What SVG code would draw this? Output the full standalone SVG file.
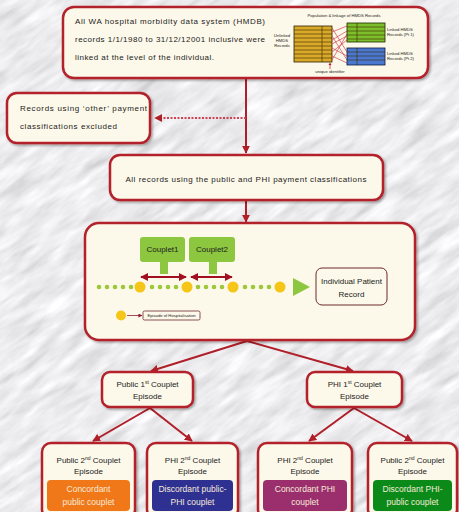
<svg xmlns="http://www.w3.org/2000/svg" width="459" height="512" viewBox="0 0 459 512">
<defs>
<style>
.box{fill:#fdf9ea;stroke:#b3202b;stroke-width:2.5}
.t{font-family:"Liberation Sans",Arial,sans-serif;font-size:8px;fill:#222}
.tc{font-family:"Liberation Sans",Arial,sans-serif;font-size:8px;fill:#222;text-anchor:middle}
.tw{font-family:"Liberation Sans",Arial,sans-serif;font-size:8.5px;fill:#f6ead8;text-anchor:middle}
.tiny{font-family:"Liberation Sans",Arial,sans-serif;font-size:4.2px;fill:#222}
.con{stroke:#b01e28;stroke-width:2;fill:none}
.dot{fill:#9cc83a}
.ep{fill:#f5c518}
.stripe{stroke:#3a2a00;stroke-width:0.6}
</style>
<filter id="tex" filterUnits="userSpaceOnUse" x="-250" y="-250" width="960" height="1010">
<feTurbulence type="fractalNoise" baseFrequency="0.025 0.11" numOctaves="4" seed="7"/>
<feColorMatrix type="matrix" values="0.33 0.33 0.33 0 0 0.33 0.33 0.33 0 0 0.33 0.33 0.33 0 0 0 0 0 0 1"/>
<feComponentTransfer>
<feFuncR type="linear" slope="0.85" intercept="0.42"/>
<feFuncG type="linear" slope="0.85" intercept="0.42"/>
<feFuncB type="linear" slope="0.85" intercept="0.44"/>
</feComponentTransfer>
</filter>
<filter id="sh" x="-10%" y="-10%" width="130%" height="130%">
<feDropShadow dx="1.5" dy="1.5" stdDeviation="1.2" flood-color="#000" flood-opacity="0.35"/>
</filter>
<marker id="ar" viewBox="0 0 10 10" refX="9" refY="5" markerWidth="4" markerHeight="4" orient="auto-start-reverse" markerUnits="strokeWidth">
<path d="M0,0 L10,5 L0,10 z" fill="#b01e28"/>
</marker>
<marker id="ard" viewBox="0 0 10 10" refX="9" refY="5" markerWidth="4" markerHeight="4" orient="auto-start-reverse" markerUnits="strokeWidth">
<path d="M0,0 L10,5 L0,10 z" fill="#a01020"/>
</marker>
<marker id="ars" viewBox="0 0 10 10" refX="9" refY="5" markerWidth="5" markerHeight="5" orient="auto" markerUnits="strokeWidth">
<path d="M0,0 L10,5 L0,10 z" fill="#8b2030"/>
</marker>
</defs>

<rect x="0" y="0" width="459" height="512" fill="#d4d4d8"/>
<g transform="rotate(-35 229 256)">
<rect x="-250" y="-250" width="960" height="1010" filter="url(#tex)"/>
</g>

<g id="connectors">
<line class="con" x1="246" y1="79" x2="246" y2="153" marker-end="url(#ar)"/>
<line x1="246" y1="118" x2="155" y2="118" stroke="#d04050" stroke-width="2" stroke-dasharray="2,1.5" marker-end="url(#ar)"/>
<line class="con" x1="246" y1="201" x2="246" y2="222" marker-end="url(#ar)"/>
<line class="con" x1="247" y1="341" x2="151" y2="371" marker-end="url(#ar)"/>
<line class="con" x1="247" y1="341" x2="353" y2="371" marker-end="url(#ar)"/>
<line class="con" x1="150" y1="408" x2="93" y2="441" marker-end="url(#ar)"/>
<line class="con" x1="150" y1="408" x2="192" y2="441" marker-end="url(#ar)"/>
<line class="con" x1="354" y1="408" x2="309" y2="441" marker-end="url(#ar)"/>
<line class="con" x1="354" y1="408" x2="412" y2="441" marker-end="url(#ar)"/>
</g>

<g id="n-top">
<rect class="box" x="63" y="7" width="365" height="71" rx="11" filter="url(#sh)"/>
<text class="t" x="75" y="24" textLength="190" lengthAdjust="spacing">All WA hospital morbidity data system (HMDB)</text>
<text class="t" x="75" y="42" textLength="190" lengthAdjust="spacing">records 1/1/1980 to 31/12/12001 inclusive were</text>
<text class="t" x="75" y="60" textLength="139" lengthAdjust="spacing">linked at the level of the individual.</text>
<g id="inset">
<text class="tiny" x="344" y="17" text-anchor="middle" font-size="4.6">Population &amp; linkage of HMDS Records</text>
<text class="tiny" x="282" y="37" text-anchor="middle">Unlinked</text>
<text class="tiny" x="282" y="42" text-anchor="middle">HMDS</text>
<text class="tiny" x="282" y="47" text-anchor="middle">Records</text>
<rect x="294" y="26" width="38" height="36" fill="#d9a92a" stroke="#2a2000" stroke-width="0.8"/>
<g class="stripe">
<line x1="294" y1="30" x2="332" y2="30"/><line x1="294" y1="34" x2="332" y2="34"/>
<line x1="294" y1="38" x2="332" y2="38"/><line x1="294" y1="42" x2="332" y2="42"/>
<line x1="294" y1="46" x2="332" y2="46"/><line x1="294" y1="50" x2="332" y2="50"/>
<line x1="294" y1="54" x2="332" y2="54"/><line x1="294" y1="58" x2="332" y2="58"/>
<line x1="322" y1="26" x2="322" y2="62"/>
</g>
<g stroke="#d04050" stroke-width="0.7">
<line x1="332" y1="28" x2="347" y2="52"/><line x1="332" y1="32" x2="347" y2="26"/>
<line x1="332" y1="36" x2="347" y2="60"/><line x1="332" y1="40" x2="347" y2="31"/>
<line x1="332" y1="44" x2="347" y2="36"/><line x1="332" y1="48" x2="347" y2="56"/>
<line x1="332" y1="52" x2="347" y2="40"/><line x1="332" y1="56" x2="347" y2="63"/>
<line x1="332" y1="60" x2="347" y2="34"/>
</g>
<rect x="347" y="23" width="38" height="19" fill="#7cbf2a" stroke="#1a2a00" stroke-width="0.8"/>
<g class="stripe">
<line x1="347" y1="27" x2="385" y2="27"/><line x1="347" y1="31" x2="385" y2="31"/>
<line x1="347" y1="35" x2="385" y2="35"/><line x1="347" y1="39" x2="385" y2="39"/>
<line x1="357" y1="23" x2="357" y2="42"/>
</g>
<rect x="347" y="48" width="38" height="17" fill="#4a78d0" stroke="#0a1a40" stroke-width="0.8"/>
<g class="stripe">
<line x1="347" y1="52" x2="385" y2="52"/><line x1="347" y1="56" x2="385" y2="56"/>
<line x1="347" y1="60" x2="385" y2="60"/>
<line x1="357" y1="48" x2="357" y2="65"/>
</g>
<text class="tiny" x="387" y="31">Linked HMDS</text>
<text class="tiny" x="387" y="36">Records (Pt 1)</text>
<text class="tiny" x="387" y="55">Linked HMDS</text>
<text class="tiny" x="387" y="60">Records (Pt 2)</text>
<line x1="330" y1="69" x2="330" y2="64" stroke="#b01e28" stroke-width="0.7"/>
<path d="M328.5,65 L330,62.5 L331.5,65 z" fill="#b01e28"/>
<text class="tiny" x="330" y="73" text-anchor="middle" font-size="3.8">unique identifier</text>
</g>
</g>

<g id="n-excluded">
<rect class="box" x="7" y="93" width="143" height="50" rx="10" filter="url(#sh)"/>
<text class="t" x="20" y="111" textLength="127" lengthAdjust="spacing">Records using ‘other’ payment</text>
<text class="t" x="20" y="129" textLength="97" lengthAdjust="spacing">classifications excluded</text>
</g>

<g id="n-all">
<rect class="box" x="110" y="155" width="273" height="45" rx="10" filter="url(#sh)"/>
<text class="tc" x="246" y="182" textLength="241" lengthAdjust="spacing">All records using the public and PHI payment classifications</text>
</g>

<g id="n-timeline">
<rect class="box" x="85" y="223" width="330" height="117" rx="14" filter="url(#sh)"/>
<g id="couplet1">
<rect x="140" y="237" width="45" height="25" rx="3" fill="#8dc63f"/>
<rect x="160" y="261" width="8" height="13" fill="#8dc63f"/>
<text class="tc" x="162.5" y="252" font-size="6">Couplet1</text>
</g>
<g id="couplet2">
<rect x="189" y="237" width="46" height="25" rx="3" fill="#8dc63f"/>
<rect x="209" y="261" width="8" height="13" fill="#8dc63f"/>
<text class="tc" x="212" y="252" font-size="6">Couplet2</text>
</g>
<line x1="141" y1="277" x2="186" y2="277" stroke="#a01020" stroke-width="2" marker-start="url(#ard)" marker-end="url(#ard)"/>
<line x1="191" y1="277" x2="232" y2="277" stroke="#a01020" stroke-width="2" marker-start="url(#ard)" marker-end="url(#ard)"/>
<g class="dot">
<circle cx="99" cy="287" r="2.3"/><circle cx="107" cy="287" r="2.3"/><circle cx="115" cy="287" r="2.3"/><circle cx="123" cy="287" r="2.3"/><circle cx="131" cy="287" r="2.3"/>
<circle cx="152" cy="287" r="2.3"/><circle cx="160" cy="287" r="2.3"/><circle cx="168" cy="287" r="2.3"/><circle cx="176" cy="287" r="2.3"/>
<circle cx="198" cy="287" r="2.3"/><circle cx="206" cy="287" r="2.3"/><circle cx="214" cy="287" r="2.3"/><circle cx="222" cy="287" r="2.3"/>
<circle cx="245" cy="287" r="2.3"/><circle cx="253" cy="287" r="2.3"/><circle cx="261" cy="287" r="2.3"/><circle cx="269" cy="287" r="2.3"/>
</g>
<g class="ep">
<circle cx="140" cy="287" r="5.5"/><circle cx="187" cy="287" r="5.5"/><circle cx="233" cy="287" r="5.5"/><circle cx="280" cy="287" r="5.5"/>
</g>
<path d="M293,278 L310,287 L293,296 z" fill="#8dc63f"/>
<g id="n-patient">
<rect x="316" y="268" width="71" height="37" rx="6" fill="#fdf9ea" stroke="#6b2a2a" stroke-width="1"/>
<text class="tc" x="351.5" y="284" font-size="8.3">Individual Patient</text>
<text class="tc" x="351.5" y="297" font-size="8.3">Record</text>
</g>
<g id="legend">
<circle class="ep" cx="121" cy="315.5" r="5"/>
<line x1="127" y1="315.5" x2="142" y2="315.5" stroke="#8b2030" stroke-width="0.8" marker-end="url(#ars)"/>
<rect x="143" y="311" width="57" height="9" rx="1.5" fill="#fdf9ea" stroke="#6b2a2a" stroke-width="0.8"/>
<text class="tiny" x="171.5" y="317" text-anchor="middle">Episode of Hospitalisation</text>
</g>
</g>

<g id="n-public1">
<rect class="box" x="102" y="372" width="91" height="35" rx="8" filter="url(#sh)"/>
<text class="tc" x="147.5" y="387">Public 1<tspan dy="-3" font-size="5">st</tspan><tspan dy="3"> Couplet</tspan></text>
<text class="tc" x="147.5" y="399">Episode</text>
</g>
<g id="n-phi1">
<rect class="box" x="307" y="372" width="95" height="35" rx="8" filter="url(#sh)"/>
<text class="tc" x="354.5" y="387">PHI 1<tspan dy="-3" font-size="5">st</tspan><tspan dy="3"> Couplet</tspan></text>
<text class="tc" x="354.5" y="399">Episode</text>
</g>

<g id="n-pub-pub">
<rect class="box" x="42" y="443" width="93" height="76" rx="9" filter="url(#sh)"/>
<text class="tc" x="88.5" y="463">Public 2<tspan dy="-3" font-size="5">nd</tspan><tspan dy="3"> Couplet</tspan></text>
<text class="tc" x="88.5" y="474">Episode</text>
<rect x="47" y="480" width="83" height="31" rx="4" fill="#f07818"/>
<text class="tw" x="88.5" y="492">Concordant</text>
<text class="tw" x="88.5" y="505">public couplet</text>
</g>
<g id="n-pub-phi">
<rect class="box" x="147" y="443" width="91" height="76" rx="9" filter="url(#sh)"/>
<text class="tc" x="192.5" y="463">PHI 2<tspan dy="-3" font-size="5">nd</tspan><tspan dy="3"> Couplet</tspan></text>
<text class="tc" x="192.5" y="474">Episode</text>
<rect x="152" y="480" width="81" height="31" rx="4" fill="#2e3192"/>
<text class="tw" x="192.5" y="492">Discordant public-</text>
<text class="tw" x="192.5" y="505">PHI couplet</text>
</g>
<g id="n-phi-phi">
<rect class="box" x="258" y="443" width="94" height="76" rx="9" filter="url(#sh)"/>
<text class="tc" x="305" y="463">PHI 2<tspan dy="-3" font-size="5">nd</tspan><tspan dy="3"> Couplet</tspan></text>
<text class="tc" x="305" y="474">Episode</text>
<rect x="263" y="480" width="84" height="31" rx="4" fill="#9b2f6e"/>
<text class="tw" x="305" y="492">Concordant PHI</text>
<text class="tw" x="305" y="505">couplet</text>
</g>
<g id="n-phi-pub">
<rect class="box" x="368" y="443" width="89" height="76" rx="9" filter="url(#sh)"/>
<text class="tc" x="412.5" y="463">Public 2<tspan dy="-3" font-size="5">nd</tspan><tspan dy="3"> Couplet</tspan></text>
<text class="tc" x="412.5" y="474">Episode</text>
<rect x="373" y="480" width="79" height="31" rx="4" fill="#0b8a1a"/>
<text class="tw" x="412.5" y="492">Discordant PHI-</text>
<text class="tw" x="412.5" y="505">public couplet</text>
</g>
</svg>
